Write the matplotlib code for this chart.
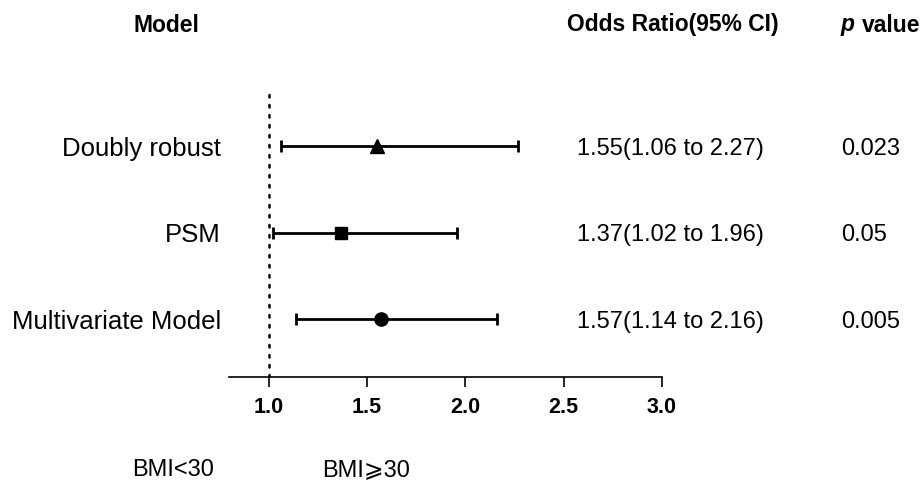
import matplotlib
matplotlib.use('Agg')
import matplotlib.pyplot as plt
import matplotlib.transforms as mtransforms

plt.rcParams['font.family'] = ['Liberation Sans', 'DejaVu Sans']

# data
models = ['Doubly robust', 'PSM', 'Multivariate Model']
odds = [1.55, 1.37, 1.57]
lower = [1.06, 1.02, 1.14]
upper = [2.27, 1.96, 2.16]
pvals = ['0.023', '0.05', '0.005']
markers = ['^', 's', 'o']
msizes = [10, 8.5, 9.5]
rows = [3, 2, 1]
ticks = [1.0, 1.5, 2.0, 2.5, 3.0]

W, H = 924, 485
fig = plt.figure(figsize=(W / 100, H / 100), dpi=100)

def fx(px):
    return px / W

def fy(py):
    return 1 - py / H

# axes box in pixels: x 229..662, y 89..378
ax = fig.add_axes([fx(229.4), fy(378), fx(662 - 229.4), (378 - 89) / H])
ax.set_xlim(0.8, 3.0)
ax.set_ylim(0.33, 3.67)

for r, o, lo, hi, m, ms in zip(rows, odds, lower, upper, markers, msizes):
    ax.errorbar(o, r, xerr=[[o - lo], [hi - o]], fmt=m, color='black',
                ms=ms, elinewidth=2.0, capsize=4, capthick=2.0, zorder=3)

ax.axvline(1.0, color='black', lw=1.8, linestyle=(0, (1, 3)),
           dash_capstyle='round', zorder=1)

for s in ['top', 'right', 'left']:
    ax.spines[s].set_visible(False)
ax.spines['bottom'].set_linewidth(1.2)
ax.set_yticks([])
ax.set_xticks(ticks)
ax.set_xticklabels(['%.1f' % t for t in ticks], fontsize=15.5, fontweight='bold')
ax.tick_params(axis='x', direction='out', length=7, width=1.2, pad=7)

trans = mtransforms.blended_transform_factory(fig.transFigure, ax.transData)
trans = mtransforms.offset_copy(trans, fig=fig, y=-2, units='dots')

for r, name, o, lo, hi, p in zip(rows, models, odds, lower, upper, pvals):
    ax.text(fx(221), r, name, transform=trans, ha='right', va='center',
            fontsize=18.5, clip_on=False)
    ax.text(fx(670), r, '%.2f(%.2f to %.2f)' % (o, lo, hi), transform=trans,
            ha='center', va='center', fontsize=17, clip_on=False)
    ax.text(fx(841), r, p, transform=trans, ha='left', va='center',
            fontsize=17, clip_on=False)

# column headers
fig.text(fx(166), fy(25), 'Model', ha='center', va='center',
         fontsize=16.5, fontweight='bold')
fig.text(fx(673), fy(25), 'Odds Ratio(95% CI)', ha='center', va='center',
         fontsize=16.5, fontweight='bold')
fig.text(fx(841), fy(25), 'p', ha='left', va='center',
         fontsize=16.5, fontweight='bold', style='italic')
fig.text(fx(862), fy(25), 'value', ha='left', va='center',
         fontsize=16.5, fontweight='bold')

# group labels under the axis
fig.text(fx(173), fy(470), 'BMI<30', ha='center', va='center', fontsize=17)
fig.text(fx(366), fy(470), 'BMI\u2a7e30', ha='center', va='center', fontsize=17)

fig.savefig('out.png', dpi=100)
